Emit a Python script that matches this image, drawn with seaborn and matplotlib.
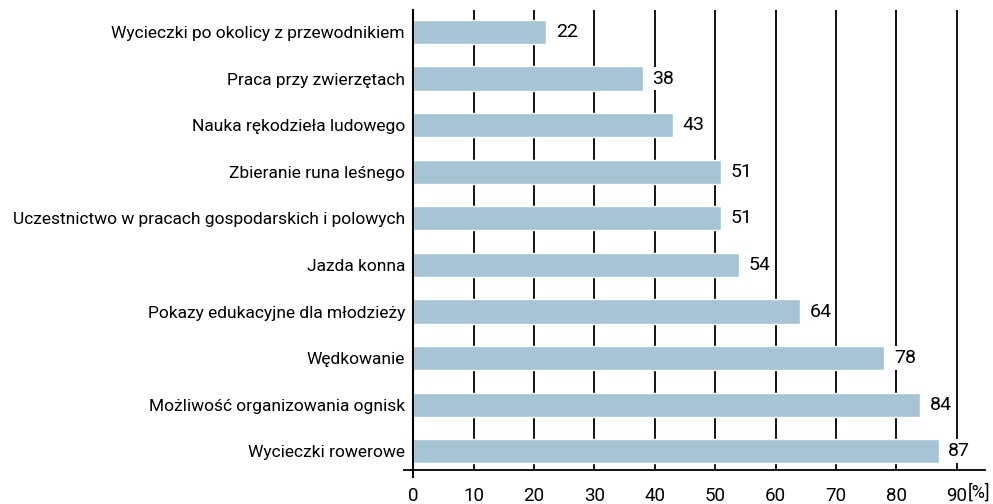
import numpy as np
import pandas as pd
import seaborn as sns
import matplotlib.pyplot as plt

activities = ['Wycieczki po okolicy z przewodnikiem', 'Praca przy zwierzętach',
              'Nauka rękodzieła ludowego', 'Zbieranie runa leśnego',
              'Uczestnictwo w pracach gospodarskich i polowych', 'Jazda konna',
              'Pokazy edukacyjne dla młodzieży', 'Wędkowanie',
              'Możliwość organizowania ognisk', 'Wycieczki rowerowe']
percent = [22, 38, 43, 51, 51, 54, 64, 78, 84, 87]
xticks = [0, 10, 20, 30, 40, 50, 60, 70, 80, 90]

df = pd.DataFrame({'activity': activities, 'percent': percent})

sns.set_style('white')
plt.rcParams['font.family'] = ['Roboto', 'DejaVu Sans']
plt.rcParams['text.color'] = 'black'
plt.rcParams['xtick.color'] = 'black'
plt.rcParams['ytick.color'] = 'black'

fig = plt.figure(figsize=(9.93, 5.04), dpi=100)
ax = fig.add_axes([0.407, 0.0675, 0.585, 0.9125])

for x in xticks[1:]:
    ax.axvline(x, color='black', lw=1.3, zorder=0)

sns.barplot(data=df, x='percent', y='activity', color='#a7c4d4', saturation=1,
            width=0.52, ax=ax, zorder=2)

for i, v in enumerate(percent):
    ax.annotate(str(v), (v, i), xytext=(7, 0), textcoords='offset points',
                ha='left', va='center', fontsize=14, zorder=3,
                bbox=dict(boxstyle='square,pad=0.15', fc='white', ec='none'))

ax.set_xlim(-1.5, 94.7)
ax.set_ylim(9.4, -0.47)
ax.set_xticks(xticks)
ax.set_xticklabels([str(t) for t in xticks])
ax.set_xlabel('')
ax.set_ylabel('')
ax.tick_params(axis='x', length=8, width=1.3, color='black', labelsize=13.5, pad=4, direction='out')
ax.tick_params(axis='y', length=0, labelsize=12.5, pad=6)
ax.annotate('[%]', xy=(90, 0), xycoords=ax.get_xaxis_transform(), xytext=(8, -9.6),
            textcoords='offset points', ha='left', va='top', fontsize=13)

for s in ['top', 'right']:
    ax.spines[s].set_visible(False)
ax.spines['left'].set_position(('data', 0))
ax.spines['left'].set_bounds(9.55, -0.47)
ax.spines['left'].set_linewidth(1.5)
ax.spines['left'].set_color('black')
ax.spines['bottom'].set_linewidth(1.3)
ax.spines['bottom'].set_color('black')

fig.savefig('out.png', dpi=100)
